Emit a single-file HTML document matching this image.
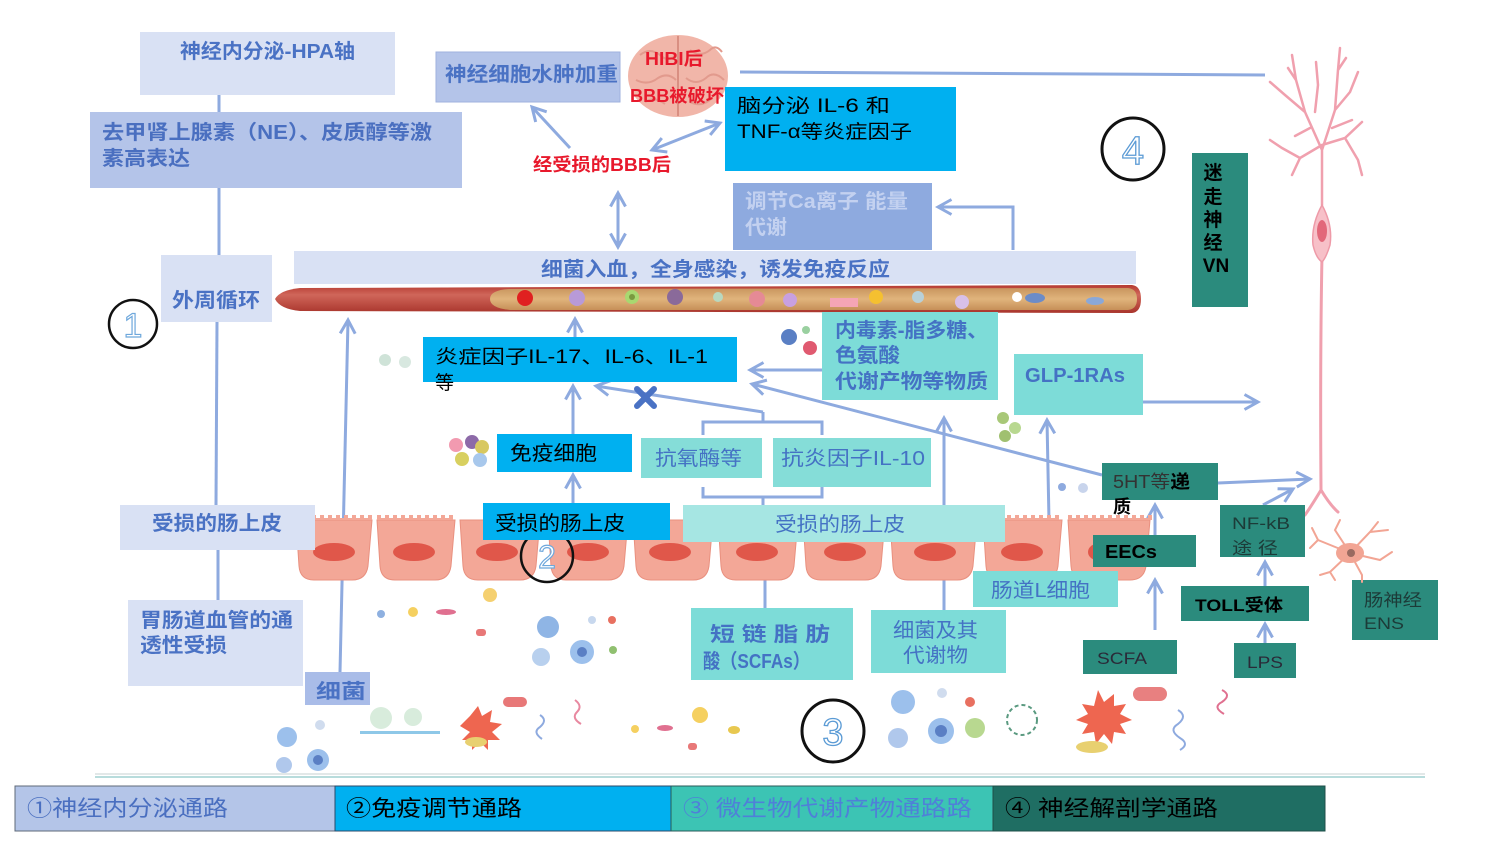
<!DOCTYPE html>
<html><head><meta charset="utf-8"><style>
html,body{margin:0;padding:0;background:#fff;}
svg{display:block;}
text{font-family:"Liberation Sans","Noto Sans CJK SC",sans-serif;}
.b{font-weight:bold;}
</style></head><body>
<svg width="1500" height="843" viewBox="0 0 1500 843" xmlns="http://www.w3.org/2000/svg">
<defs>
<marker id="ah" viewBox="0 0 12 12" refX="10" refY="6" markerWidth="6" markerHeight="6" orient="auto-start-reverse" markerUnits="strokeWidth">
<path d="M1,1 L10,6 L1,11" fill="none" stroke="#8eaadf" stroke-width="2"/>
</marker>
<linearGradient id="vess" x1="0" y1="0" x2="0" y2="1">
<stop offset="0" stop-color="#b53a30"/><stop offset="0.35" stop-color="#d0665a"/><stop offset="1" stop-color="#a9352c"/>
</linearGradient>
<linearGradient id="inner" x1="0" y1="0" x2="0" y2="1">
<stop offset="0" stop-color="#c9955e"/><stop offset="0.5" stop-color="#e0b47c"/><stop offset="1" stop-color="#c68f58"/>
</linearGradient>
</defs>

<!-- ===== left column (neuroendocrine) ===== -->
<g stroke="#8eaadf" stroke-width="3" fill="none">
<line x1="219" y1="95" x2="219" y2="112"/>
<line x1="219" y1="188" x2="219" y2="255"/>
<line x1="217" y1="322" x2="216" y2="505"/>
<line x1="218" y1="550" x2="218" y2="600"/>
</g>
<rect x="140" y="32" width="255" height="63" fill="#d9e1f4"/>
<text x="180" y="58" font-size="20" class="b" fill="#4a72c4" textLength="175" lengthAdjust="spacingAndGlyphs">神经内分泌-HPA轴</text>
<rect x="90" y="112" width="372" height="76" fill="#b4c4e9"/>
<text x="102" y="139" font-size="20" class="b" fill="#4a6fc0" textLength="330" lengthAdjust="spacingAndGlyphs">去甲肾上腺素（NE）、皮质醇等激</text>
<text x="102" y="165" font-size="20" class="b" fill="#4a6fc0" textLength="88" lengthAdjust="spacingAndGlyphs">素高表达</text>
<rect x="161" y="255" width="111" height="67" fill="#d9e1f4"/>
<text x="172" y="307" font-size="20" class="b" fill="#4a72c4" textLength="88" lengthAdjust="spacingAndGlyphs">外周循环</text>
<circle cx="133" cy="324" r="24" fill="#fff" stroke="#111" stroke-width="2.5"/>
<text x="133" y="337" font-size="34" text-anchor="middle" fill="#fff" stroke="#6fa8dc" stroke-width="1.2">1</text>

<!-- ===== top brain area ===== -->
<rect x="436" y="52" width="184" height="50" fill="#b4c4e9" stroke="#9fb2de" stroke-width="1"/>
<text x="445" y="81" font-size="20" class="b" fill="#4a72c4" textLength="173" lengthAdjust="spacingAndGlyphs">神经细胞水肿加重</text>
<g>
<ellipse cx="678" cy="76" rx="50" ry="41" fill="#f1b6a9"/>
<path d="M678,36 L678,116" stroke="#d98f82" stroke-width="2"/>
<path d="M640,55 q10,-8 20,0 q8,8 16,0 M690,50 q10,8 20,0 q6,-6 12,2 M636,80 q12,6 22,-2 q10,-6 18,2 M686,78 q10,8 20,0 q8,-8 18,2 M645,102 q10,-6 20,2 M690,102 q12,6 22,-4" stroke="#e29a8d" stroke-width="2" fill="none"/>
</g>
<text x="645" y="65" font-size="18" class="b" fill="#e8192c" textLength="58" lengthAdjust="spacingAndGlyphs">HIBI后</text>
<text x="630" y="102" font-size="18" class="b" fill="#e8192c" textLength="94" lengthAdjust="spacingAndGlyphs">BBB被破坏</text>
<rect x="725" y="87" width="231" height="84" fill="#00b0f0"/>
<text x="737" y="112" font-size="19" fill="#000" textLength="153" lengthAdjust="spacingAndGlyphs">脑分泌 IL-6 和</text>
<text x="737" y="138" font-size="19" fill="#000" textLength="175" lengthAdjust="spacingAndGlyphs">TNF-α等炎症因子</text>
<text x="533" y="171" font-size="18" class="b" fill="#e8192c" textLength="138" lengthAdjust="spacingAndGlyphs">经受损的BBB后</text>

<g stroke="#8eaadf" stroke-width="3" fill="none">
<line x1="570" y1="148" x2="532" y2="107" marker-end="url(#ah)"/>
<line x1="652" y1="150" x2="720" y2="123" marker-start="url(#ah)" marker-end="url(#ah)"/>
<line x1="618" y1="193" x2="618" y2="247" marker-start="url(#ah)" marker-end="url(#ah)"/>
<line x1="740" y1="72" x2="1265" y2="75"/>
<polyline points="1013,250 1013,207 938,207" marker-end="url(#ah)"/>
</g>
<rect x="733" y="183" width="199" height="67" fill="#8eaadf"/>
<text x="745" y="208" font-size="20" class="b" fill="#c3d1f0" textLength="163" lengthAdjust="spacingAndGlyphs">调节Ca离子 能量</text>
<text x="745" y="234" font-size="20" class="b" fill="#c3d1f0" textLength="42" lengthAdjust="spacingAndGlyphs">代谢</text>

<circle cx="1133" cy="149" r="31" fill="#fff" stroke="#111" stroke-width="3"/>
<text x="1133" y="164" font-size="40" text-anchor="middle" fill="#fff" stroke="#5b9bd5" stroke-width="1.3">4</text>

<!-- ===== blood vessel band ===== -->
<rect x="294" y="251" width="842" height="33" fill="#d9e1f4"/>
<text x="541" y="276" font-size="20" class="b" fill="#4a72c4" textLength="349" lengthAdjust="spacingAndGlyphs">细菌入血，全身感染，诱发免疫反应</text>
<path d="M275,299 Q280,290 300,288 L1132,285 Q1141,286 1141,299 Q1141,312 1132,313 L300,311 Q280,309 275,299 Z" fill="url(#vess)"/>
<path d="M510,289 L1128,288 Q1137,289 1137,299 Q1137,309 1128,310 L510,310 Q490,308 490,299 Q490,290 510,289 Z" fill="url(#inner)"/>
<circle cx="525" cy="298" r="8" fill="#e02020"/>
<circle cx="577" cy="298" r="8" fill="#b89ad8"/>
<circle cx="632" cy="297" r="7" fill="#a8d870"/><circle cx="632" cy="297" r="3" fill="#7a9a40"/>
<circle cx="675" cy="297" r="8" fill="#8a6a9a"/>
<circle cx="718" cy="297" r="5" fill="#b8d8c0"/>
<circle cx="757" cy="299" r="8" fill="#e58a95"/>
<circle cx="790" cy="300" r="7" fill="#c8a0e0"/>
<rect x="830" y="298" width="28" height="9" fill="#f5a5b5"/>
<circle cx="876" cy="297" r="7" fill="#f5c030"/>
<circle cx="918" cy="297" r="6" fill="#b8d0d8"/>
<circle cx="962" cy="302" r="7" fill="#d8c0e8"/>
<circle cx="1017" cy="297" r="5" fill="#fff"/>
<ellipse cx="1035" cy="298" rx="10" ry="5" fill="#6c8cc8"/>
<ellipse cx="1095" cy="301" rx="9" ry="4" fill="#8aa8d8"/>

<!-- ===== neuron (vagus) ===== -->
<g stroke="#f0a0ae" stroke-width="2.5" fill="none" stroke-linecap="round">
<path d="M1322,205 L1322,150 L1305,112 L1296,80 L1292,55 M1305,112 L1285,95 L1270,82 M1296,80 L1288,68 M1322,150 L1335,110 L1338,70 L1340,48 M1335,110 L1350,92 L1358,72 M1338,70 L1346,58 M1322,145 L1300,158 L1282,148 L1270,140 M1300,158 L1292,175 M1322,145 L1345,138 L1362,122 M1345,138 L1358,160 L1362,175 M1310,128 L1295,136 M1332,128 L1352,120 M1315,112 L1318,85 L1316,62"/>
<path d="M1322,255 Q1320,360 1321,490 M1321,490 Q1312,505 1305,515 M1321,490 Q1330,505 1338,512" stroke-width="3"/>
</g>
<path d="M1322,205 Q1333,225 1330,245 Q1326,258 1322,262 Q1316,258 1313,245 Q1311,225 1322,205 Z" fill="#f7c0c8" stroke="#ee9aa8" stroke-width="1.5"/>
<ellipse cx="1322" cy="231" rx="5" ry="11" fill="#e2687a"/>

<rect x="1192" y="153" width="56" height="154" fill="#2b8b7d"/>
<g font-size="19" class="b" fill="#000" text-anchor="middle">
<text x="1213" y="179">迷</text>
<text x="1213" y="203">走</text>
<text x="1213" y="226">神</text>
<text x="1213" y="249">经</text>
<text x="1216" y="272">VN</text>
</g>

<!-- ===== middle region ===== -->
<g stroke="#8eaadf" stroke-width="3" fill="none">
<line x1="340" y1="672" x2="348" y2="320" marker-end="url(#ah)"/>
<line x1="575" y1="337" x2="575" y2="319" marker-end="url(#ah)"/>
<line x1="822" y1="370" x2="750" y2="370" marker-end="url(#ah)"/>
<line x1="1102" y1="475" x2="752" y2="384" marker-end="url(#ah)"/>
<line x1="763" y1="412" x2="596" y2="386" marker-end="url(#ah)"/>
<line x1="573" y1="434" x2="573" y2="386" marker-end="url(#ah)"/>
<line x1="573" y1="503" x2="573" y2="475" marker-end="url(#ah)"/>
<path d="M703,435 V422 H822 V435 M763,422 V412"/>
<path d="M703,487 V497 H822 V487 M763,497 V506"/>
<line x1="765" y1="608" x2="765" y2="544" marker-end="url(#ah)"/>
<line x1="944" y1="610" x2="944" y2="418" marker-end="url(#ah)"/>
<line x1="1050" y1="571" x2="1047" y2="420" marker-end="url(#ah)"/>
<line x1="1143" y1="402" x2="1258" y2="402" marker-end="url(#ah)"/>
<line x1="1218" y1="483" x2="1310" y2="479" marker-end="url(#ah)"/>
<line x1="1263" y1="505" x2="1293" y2="489" marker-end="url(#ah)"/>
<line x1="1155" y1="535" x2="1155" y2="505" marker-end="url(#ah)"/>
<line x1="1155" y1="630" x2="1155" y2="580" marker-end="url(#ah)"/>
<line x1="1265" y1="586" x2="1265" y2="562" marker-end="url(#ah)"/>
<line x1="1265" y1="643" x2="1265" y2="624" marker-end="url(#ah)"/>
</g>

<rect x="423" y="337" width="314" height="45" fill="#00b0f0"/>
<text x="435" y="363" font-size="19" fill="#000" textLength="273" lengthAdjust="spacingAndGlyphs">炎症因子IL-17、IL-6、IL-1</text>
<text x="435" y="389" font-size="19" fill="#000">等</text>
<g stroke="#4a72c4" stroke-width="6" stroke-linecap="round">
<line x1="637" y1="389" x2="654" y2="406"/><line x1="654" y1="389" x2="637" y2="406"/>
</g>

<rect x="822" y="312" width="176" height="88" fill="#7ddcd8"/>
<text x="835" y="337" font-size="20" class="b" fill="#4472c4" textLength="153" lengthAdjust="spacingAndGlyphs">内毒素-脂多糖、</text>
<text x="835" y="362" font-size="20" class="b" fill="#4472c4" textLength="65" lengthAdjust="spacingAndGlyphs">色氨酸</text>
<text x="835" y="388" font-size="20" class="b" fill="#4472c4" textLength="153" lengthAdjust="spacingAndGlyphs">代谢产物等物质</text>

<rect x="1014" y="354" width="129" height="61" fill="#7ddcd8"/>
<text x="1025" y="382" font-size="20" class="b" fill="#4472c4" textLength="100" lengthAdjust="spacingAndGlyphs">GLP-1RAs</text>

<rect x="497" y="434" width="135" height="38" fill="#00b0f0"/>
<text x="510" y="460" font-size="20" fill="#000" textLength="87" lengthAdjust="spacingAndGlyphs">免疫细胞</text>
<rect x="641" y="438" width="121" height="40" fill="#85ddd8"/>
<text x="655" y="465" font-size="20" fill="#4472c4" textLength="87" lengthAdjust="spacingAndGlyphs">抗氧酶等</text>
<rect x="773" y="438" width="158" height="49" fill="#85ddd8"/>
<text x="781" y="465" font-size="20" fill="#4472c4" textLength="144" lengthAdjust="spacingAndGlyphs">抗炎因子IL-10</text>

<!-- ===== epithelium ===== -->
<g>
<g fill="#f3a797" stroke="#e9907f" stroke-width="1">
<path d="M296,520 H372 L368,566 Q366,580 352,580 H314 Q300,580 299,566 Z"/>
<path d="M377,520 H455 L451,566 Q449,580 435,580 H395 Q381,580 380,566 Z"/>
<path d="M460,520 H540 L536,566 Q534,580 520,580 H478 Q464,580 463,566 Z"/>
<path d="M548,520 H628 L624,566 Q622,580 608,580 H566 Q552,580 551,566 Z"/>
<path d="M633,520 H713 L709,566 Q707,580 693,580 H651 Q637,580 636,566 Z"/>
<path d="M718,520 H798 L794,566 Q792,580 778,580 H736 Q722,580 721,566 Z"/>
<path d="M803,520 H885 L881,566 Q879,580 865,580 H821 Q807,580 806,566 Z"/>
<path d="M890,520 H977 L973,566 Q971,580 957,580 H908 Q894,580 893,566 Z"/>
<path d="M983,520 H1062 L1058,566 Q1056,580 1042,580 H1001 Q987,580 986,566 Z"/>
<path d="M1068,520 H1150 L1146,566 Q1144,580 1130,580 H1086 Q1072,580 1071,566 Z"/>
</g>
<g fill="#f3a797">
<path d="M296,520 v-5 h4 v3 h4 v-3 h4 v3 h4 v-3 h4 v3 h4 v-3 h4 v3 h4 v-3 h4 v3 h4 v-3 h4 v3 h4 v-3 h4 v3 h4 v-3 h4 v3 h4 v-3 h4 v3 h4 v-3 h4 v5 Z"/>
<path d="M377,520 v-5 h4 v3 h4 v-3 h4 v3 h4 v-3 h4 v3 h4 v-3 h4 v3 h4 v-3 h4 v3 h4 v-3 h4 v3 h4 v-3 h4 v3 h4 v-3 h4 v3 h4 v-3 h4 v3 h4 v-3 h4 v5 Z"/>
<path d="M983,520 v-5 h4 v3 h4 v-3 h4 v3 h4 v-3 h4 v3 h4 v-3 h4 v3 h4 v-3 h4 v3 h4 v-3 h4 v3 h4 v-3 h4 v3 h4 v-3 h4 v3 h4 v-3 h4 v3 h4 v-3 h4 v5 Z"/>
<path d="M1068,520 v-5 h4 v3 h4 v-3 h4 v3 h4 v-3 h4 v3 h4 v-3 h4 v3 h4 v-3 h4 v3 h4 v-3 h4 v3 h4 v-3 h4 v3 h4 v-3 h4 v3 h4 v-3 h4 v3 h4 v-3 h4 v3 h4 v-3 h4 v5 Z"/>
</g>
<g fill="#e0574a">
<ellipse cx="334" cy="552" rx="21" ry="9"/>
<ellipse cx="414" cy="552" rx="21" ry="9"/>
<ellipse cx="497" cy="552" rx="21" ry="9"/>
<ellipse cx="588" cy="552" rx="21" ry="9"/>
<ellipse cx="670" cy="552" rx="21" ry="9"/>
<ellipse cx="757" cy="552" rx="21" ry="9"/>
<ellipse cx="845" cy="552" rx="21" ry="9"/>
<ellipse cx="935" cy="552" rx="21" ry="9"/>
<ellipse cx="1022" cy="552" rx="21" ry="9"/>
<ellipse cx="1100" cy="552" rx="12" ry="9"/>
</g>
</g>
<circle cx="547" cy="556" r="26" fill="none" stroke="#111" stroke-width="2.5"/>
<text x="547" y="568" font-size="32" text-anchor="middle" fill="#fff" stroke="#6fa8dc" stroke-width="1.2">2</text>

<rect x="120" y="505" width="195" height="45" fill="#d9e1f4"/>
<text x="152" y="530" font-size="20" class="b" fill="#4a72c4" textLength="130" lengthAdjust="spacingAndGlyphs">受损的肠上皮</text>
<rect x="483" y="503" width="187" height="37" fill="#00b0f0"/>
<text x="495" y="530" font-size="20" fill="#000" textLength="130" lengthAdjust="spacingAndGlyphs">受损的肠上皮</text>
<rect x="683" y="505" width="322" height="37" fill="#a6e6e3"/>
<text x="775" y="531" font-size="20" fill="#4472c4" textLength="130" lengthAdjust="spacingAndGlyphs">受损的肠上皮</text>
<rect x="973" y="571" width="145" height="36" fill="#7ddcd8"/>
<text x="991" y="597" font-size="20" fill="#4472c4" textLength="99" lengthAdjust="spacingAndGlyphs">肠道L细胞</text>

<rect x="1102" y="463" width="116" height="37" fill="#2b8b7d"/>
<text x="1113" y="488" font-size="18" fill="#333" textLength="77" lengthAdjust="spacingAndGlyphs">5HT等<tspan class="b" fill="#000">递</tspan></text>
<text x="1113" y="513" font-size="18" class="b" fill="#000">质</text>
<rect x="1093" y="535" width="103" height="32" fill="#2b8b7d"/>
<text x="1105" y="558" font-size="18" class="b" fill="#000" textLength="52" lengthAdjust="spacingAndGlyphs">EECs</text>
<rect x="1220" y="505" width="85" height="52" fill="#2b8b7d"/>
<text x="1232" y="529" font-size="17" fill="#1c3b38" textLength="58" lengthAdjust="spacingAndGlyphs">NF-kB</text>
<text x="1232" y="554" font-size="17" fill="#1c3b38" textLength="46" lengthAdjust="spacingAndGlyphs">途 径</text>
<rect x="1181" y="586" width="128" height="35" fill="#2b8b7d"/>
<text x="1195" y="611" font-size="17" class="b" fill="#000" textLength="88" lengthAdjust="spacingAndGlyphs">TOLL受体</text>
<rect x="1083" y="640" width="94" height="34" fill="#2b8b7d"/>
<text x="1097" y="664" font-size="17" fill="#2a2a38" textLength="50" lengthAdjust="spacingAndGlyphs">SCFA</text>
<rect x="1234" y="643" width="62" height="35" fill="#2b8b7d"/>
<text x="1247" y="668" font-size="17" fill="#2a2a38" textLength="36" lengthAdjust="spacingAndGlyphs">LPS</text>
<rect x="1352" y="580" width="86" height="60" fill="#2b8b7d"/>
<text x="1364" y="606" font-size="17" fill="#1c3b38" textLength="58" lengthAdjust="spacingAndGlyphs">肠神经</text>
<text x="1364" y="629" font-size="17" fill="#1c3b38" textLength="40" lengthAdjust="spacingAndGlyphs">ENS</text>

<g stroke="#f2a594" stroke-width="2" fill="none" stroke-linecap="round">
<path d="M1350,553 L1318,540 L1312,528 M1318,540 L1310,548 M1350,553 L1335,530 L1340,520 M1350,553 L1370,532 L1378,522 M1370,532 L1388,530 M1350,553 L1380,560 L1392,552 M1350,553 L1362,575 L1362,582 M1350,553 L1330,572 L1320,575 M1330,572 L1335,580"/>
</g>
<ellipse cx="1350" cy="553" rx="14" ry="10" fill="#f2a594"/>
<circle cx="1351" cy="553" r="4" fill="#9a6a60"/>

<rect x="128" y="600" width="175" height="86" fill="#d9e1f4"/>
<text x="140" y="627" font-size="20" class="b" fill="#4a72c4" textLength="153" lengthAdjust="spacingAndGlyphs">胃肠道血管的通</text>
<text x="140" y="652" font-size="20" class="b" fill="#4a72c4" textLength="87" lengthAdjust="spacingAndGlyphs">透性受损</text>
<rect x="305" y="672" width="65" height="33" fill="#a9bce8"/>
<text x="316" y="698" font-size="20" class="b" fill="#4a72c4" textLength="50" lengthAdjust="spacingAndGlyphs">细菌</text>

<rect x="691" y="608" width="162" height="72" fill="#7ddcd8"/>
<text x="710" y="641" font-size="20" fill="#4472c4" class="b" textLength="120" lengthAdjust="spacingAndGlyphs">短 链 脂 肪</text>
<text x="703" y="668" font-size="20" fill="#4472c4" class="b" textLength="107" lengthAdjust="spacingAndGlyphs">酸（SCFAs）</text>
<rect x="871" y="610" width="135" height="63" fill="#7ddcd8"/>
<text x="893" y="637" font-size="20" fill="#4472c4" textLength="85" lengthAdjust="spacingAndGlyphs">细菌及其</text>
<text x="903" y="662" font-size="20" fill="#4472c4" textLength="65" lengthAdjust="spacingAndGlyphs">代谢物</text>

<circle cx="833" cy="731" r="31" fill="#fff" stroke="#111" stroke-width="3"/>
<text x="833" y="745" font-size="38" text-anchor="middle" fill="#fff" stroke="#5b9bd5" stroke-width="1.3">3</text>

<g>
<circle cx="385" cy="360" r="6" fill="#cfe3d8"/><circle cx="405" cy="362" r="6" fill="#d8e8e0"/>
<circle cx="456" cy="445" r="7" fill="#f29ab0"/><circle cx="472" cy="442" r="7" fill="#8d6aa8"/><circle cx="482" cy="447" r="7" fill="#d8c860"/><circle cx="462" cy="459" r="7" fill="#d8d060"/><circle cx="480" cy="460" r="7" fill="#a8c8ec"/>
<circle cx="789" cy="337" r="8" fill="#5a7fc4"/><circle cx="810" cy="348" r="7" fill="#e05a70"/><circle cx="806" cy="330" r="4" fill="#9ad0a0"/>
<circle cx="1003" cy="418" r="6" fill="#a8c878"/><circle cx="1015" cy="428" r="6" fill="#b8d890"/><circle cx="1005" cy="436" r="6" fill="#a0c070"/>
<circle cx="1062" cy="487" r="4" fill="#8eaadf"/><circle cx="1083" cy="488" r="5" fill="#c8d4ec"/>
<circle cx="381" cy="614" r="4" fill="#8eb0e0"/><circle cx="413" cy="612" r="5" fill="#f5d060"/><ellipse cx="446" cy="612" rx="10" ry="3" fill="#e07090"/><circle cx="490" cy="595" r="7" fill="#f5d070"/><rect x="476" y="629" width="10" height="7" rx="3" fill="#e87878"/>
<circle cx="548" cy="627" r="11" fill="#8fb5e5"/><circle cx="582" cy="652" r="12" fill="#9cc0ec"/><circle cx="582" cy="652" r="5" fill="#5a7fc4"/><circle cx="541" cy="657" r="9" fill="#b8d0ee"/><circle cx="592" cy="620" r="4" fill="#c8d8ee"/><circle cx="612" cy="620" r="4" fill="#e87060"/><circle cx="613" cy="650" r="4" fill="#90c070"/>
<circle cx="287" cy="737" r="10" fill="#9cc0ec"/><circle cx="318" cy="760" r="11" fill="#9cc0ec"/><circle cx="318" cy="760" r="5" fill="#5a7fc4"/><circle cx="284" cy="765" r="8" fill="#b0c8ec"/><circle cx="320" cy="725" r="5" fill="#d0dcee"/>
<circle cx="381" cy="718" r="11" fill="#d8ecdc"/><circle cx="413" cy="717" r="9" fill="#d8ecdc"/><rect x="360" y="731" width="80" height="3" fill="#8ec8e8"/>
<path d="M470,716 l8,-10 l4,10 l10,-6 l-2,12 l12,2 l-10,8 l8,8 l-12,0 l0,10 l-8,-8 l-8,8 l0,-10 l-10,0 l8,-8 l-10,-6 z" fill="#ee6650"/>
<rect x="503" y="697" width="24" height="10" rx="5" fill="#e87878"/>
<ellipse cx="476" cy="742" rx="11" ry="5" fill="#e8d070"/>
<path d="M540,715 q8,5 0,12 q-8,5 2,12" stroke="#8eaadf" stroke-width="2" fill="none"/>
<path d="M575,700 q8,6 2,12 q-6,6 4,12" stroke="#e888a0" stroke-width="2" fill="none"/>
<circle cx="635" cy="729" r="4" fill="#f5d060"/><ellipse cx="665" cy="728" rx="8" ry="3" fill="#e07090"/><circle cx="700" cy="715" r="8" fill="#f5d060"/><rect x="688" y="743" width="9" height="7" rx="3" fill="#e87878"/><ellipse cx="734" cy="730" rx="6" ry="4" fill="#e8c850"/>
<circle cx="903" cy="702" r="12" fill="#9cc0ec"/><circle cx="941" cy="731" r="13" fill="#9cc0ec"/><circle cx="941" cy="731" r="6" fill="#5a7fc4"/><circle cx="898" cy="738" r="10" fill="#b0c8ec"/><circle cx="942" cy="693" r="5" fill="#d0dcee"/><circle cx="970" cy="702" r="5" fill="#e87060"/><circle cx="975" cy="728" r="10" fill="#b8d890"/><circle cx="1022" cy="720" r="15" fill="none" stroke="#5a9a80" stroke-width="2" stroke-dasharray="4 3"/>
<path d="M1098,690 l6,12 l10,-8 l0,12 l12,-2 l-6,10 l12,6 l-12,4 l6,10 l-12,-2 l-2,12 l-8,-10 l-8,10 l-2,-12 l-12,2 l6,-10 l-12,-4 l12,-6 l-6,-10 l12,2 z" fill="#ee6650"/>
<rect x="1133" y="687" width="34" height="14" rx="7" fill="#e88080"/>
<ellipse cx="1092" cy="747" rx="16" ry="6" fill="#e8d070"/>
<path d="M1178,710 q10,6 0,14 q-10,6 2,14 q10,6 0,12" stroke="#8eaadf" stroke-width="2" fill="none"/>
<path d="M1222,690 q10,5 0,12 q-10,5 2,12" stroke="#e07090" stroke-width="2" fill="none"/>
</g>

<line x1="95" y1="774" x2="1425" y2="774" stroke="#d8e0e0" stroke-width="1.5"/>
<line x1="95" y1="777" x2="1425" y2="777" stroke="#b8dcdc" stroke-width="2"/>

<rect x="15" y="786" width="320" height="45" fill="#b4c5e8" stroke="#5f6a78" stroke-width="1"/>
<rect x="335" y="786" width="336" height="45" fill="#00b0f0" stroke="#2d4a6a" stroke-width="1"/>
<rect x="671" y="786" width="322" height="45" fill="#3cc4b4" stroke="#2a5a58" stroke-width="1"/>
<rect x="993" y="786" width="332" height="45" fill="#1f6e63" stroke="#1f4f48" stroke-width="1"/>
<text x="27" y="816" font-size="22" fill="#4a6fc0" textLength="201" lengthAdjust="spacingAndGlyphs">①神经内分泌通路</text>
<text x="346" y="816" font-size="22" fill="#000" textLength="176" lengthAdjust="spacingAndGlyphs">②免疫调节通路</text>
<text x="683" y="816" font-size="22" fill="#4f80d8" textLength="289" lengthAdjust="spacingAndGlyphs">③ 微生物代谢产物通路路</text>
<text x="1005" y="816" font-size="22" fill="#000" textLength="213" lengthAdjust="spacingAndGlyphs">④ 神经解剖学通路</text>
</svg>
</body></html>
